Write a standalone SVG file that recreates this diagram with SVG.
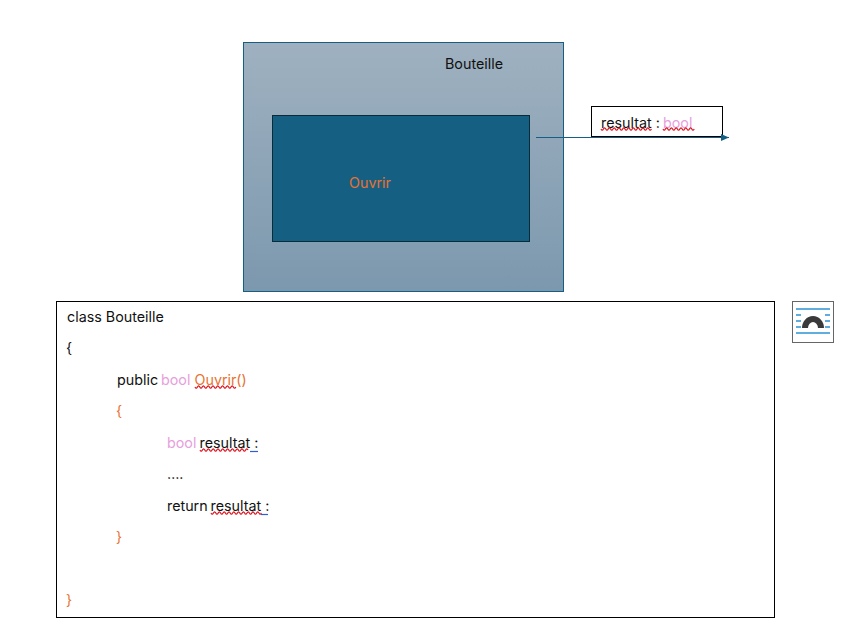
<svg xmlns="http://www.w3.org/2000/svg" width="865" height="637" viewBox="0 0 865 637">
<style>
text{font-family:Inter,"Noto Sans","Liberation Sans",sans-serif;font-size:14.3px;fill:#111}
.p{fill:#e8a0dc}.o{fill:#e97132}.or{fill:#e97132}
.sq{fill:none;stroke:#e0101c;stroke-width:1.2}
.ul{stroke:#2f5fd0;stroke-width:1.2}
.bl{stroke:#2b93d6;stroke-width:1.6}
</style>
<defs>
<linearGradient id="g" x1="0" y1="0" x2="0" y2="1"><stop offset="0" stop-color="#9fb1c0"/><stop offset="1" stop-color="#7c98ae"/></linearGradient>
<marker id="a" markerWidth="8" markerHeight="8" refX="8" refY="4" orient="auto" markerUnits="userSpaceOnUse"><path d="M0 .5L8 4L0 7.500Z" fill="#156082"/></marker>
</defs>
<rect width="865" height="637" fill="#fff"/>
<g id="bouteille">
<rect x="243.500" y="42.500" width="320" height="249" fill="url(#g)" stroke="#156082"/>
<text x="445" y="69">Bouteille</text>
</g>
<g id="ouvrir">
<rect x="272.500" y="115.500" width="257" height="126" fill="#156082" stroke="#0b2a3a"/>
<text x="349" y="188" class="or">Ouvrir</text>
</g>
<g id="resultat">
<rect x="591.500" y="106.500" width="131" height="30" fill="#fff" stroke="#000"/>
<text x="601" y="127.500">resultat :<tspan class="p" x="663">bool</tspan></text>
<path class="sq" d="M601 129q1.200 2.400 2.400 0t2.400 0t2.400 0t2.400 0t2.400 0t2.400 0t2.400 0t2.400 0t2.400 0t2.400 0t2.400 0t2.400 0t2.400 0t2.400 0t2.400 0t2.400 0t2.400 0t2.400 0t2.400 0t2.400 0t2.400 0M663 129q1.200 2.400 2.400 0t2.400 0t2.400 0t2.400 0t2.400 0t2.400 0t2.400 0t2.400 0t2.400 0t2.400 0t2.400 0t2.400 0t2.400 0"/>
</g>
<g id="connectors">
<line x1="536" y1="137.500" x2="729" y2="137.500" stroke="#156082" stroke-width="1" marker-end="url(#a)"/>
</g>
<g id="code">
<rect x="56.500" y="301.500" width="718" height="316" fill="#fff" stroke="#000"/>
<text x="67" y="322">class Bouteille</text>
<text x="66" y="353">{</text>
<text x="117" y="385">public<tspan class="p" x="161">bool</tspan><tspan class="o" x="194.500">Ouvrir()</tspan></text>
<path class="sq" d="M195 387q1.200 2.400 2.400 0t2.400 0t2.400 0t2.400 0t2.400 0t2.400 0t2.400 0t2.400 0t2.400 0t2.400 0t2.400 0t2.400 0t2.400 0t2.400 0t2.400 0t2.400 0t2.400 0"/>
<text x="116" y="416" class="o">{</text>
<text x="167" y="448"><tspan class="p">bool</tspan><tspan x="199.500">resultat :</tspan></text>
<path class="sq" d="M200 450q1.200 2.400 2.400 0t2.400 0t2.400 0t2.400 0t2.400 0t2.400 0t2.400 0t2.400 0t2.400 0t2.400 0t2.400 0t2.400 0t2.400 0t2.400 0t2.400 0t2.400 0t2.400 0t2.400 0t2.400 0t2.400 0"/>
<line class="ul" x1="250" y1="451.500" x2="258" y2="451.500"/>
<text x="167" y="479">….</text>
<text x="167" y="511">return<tspan x="210.500">resultat :</tspan></text>
<path class="sq" d="M211 513q1.200 2.400 2.400 0t2.400 0t2.400 0t2.400 0t2.400 0t2.400 0t2.400 0t2.400 0t2.400 0t2.400 0t2.400 0t2.400 0t2.400 0t2.400 0t2.400 0t2.400 0t2.400 0t2.400 0t2.400 0t2.400 0t2.400 0"/>
<line class="ul" x1="261" y1="514.500" x2="268" y2="514.500"/>
<text x="116" y="542" class="o">}</text>
<text x="66" y="605" class="o">}</text>
</g>
<g id="icon">
<rect x="792.500" y="301.500" width="41" height="41" fill="#fff" stroke="#666"/>
<line class="bl" x1="796" y1="309" x2="830" y2="309"/>
<line class="bl" x1="796" y1="333" x2="830" y2="333"/>
<path class="bl" d="M796 315h5M796 321h5M796 327h5M825 315h5M825 321h5M825 327h5"/>
<path d="M805 328a8 9 0 0 1 16 0" fill="none" stroke="#3a3a3a" stroke-width="6"/>
</g>
</svg>
